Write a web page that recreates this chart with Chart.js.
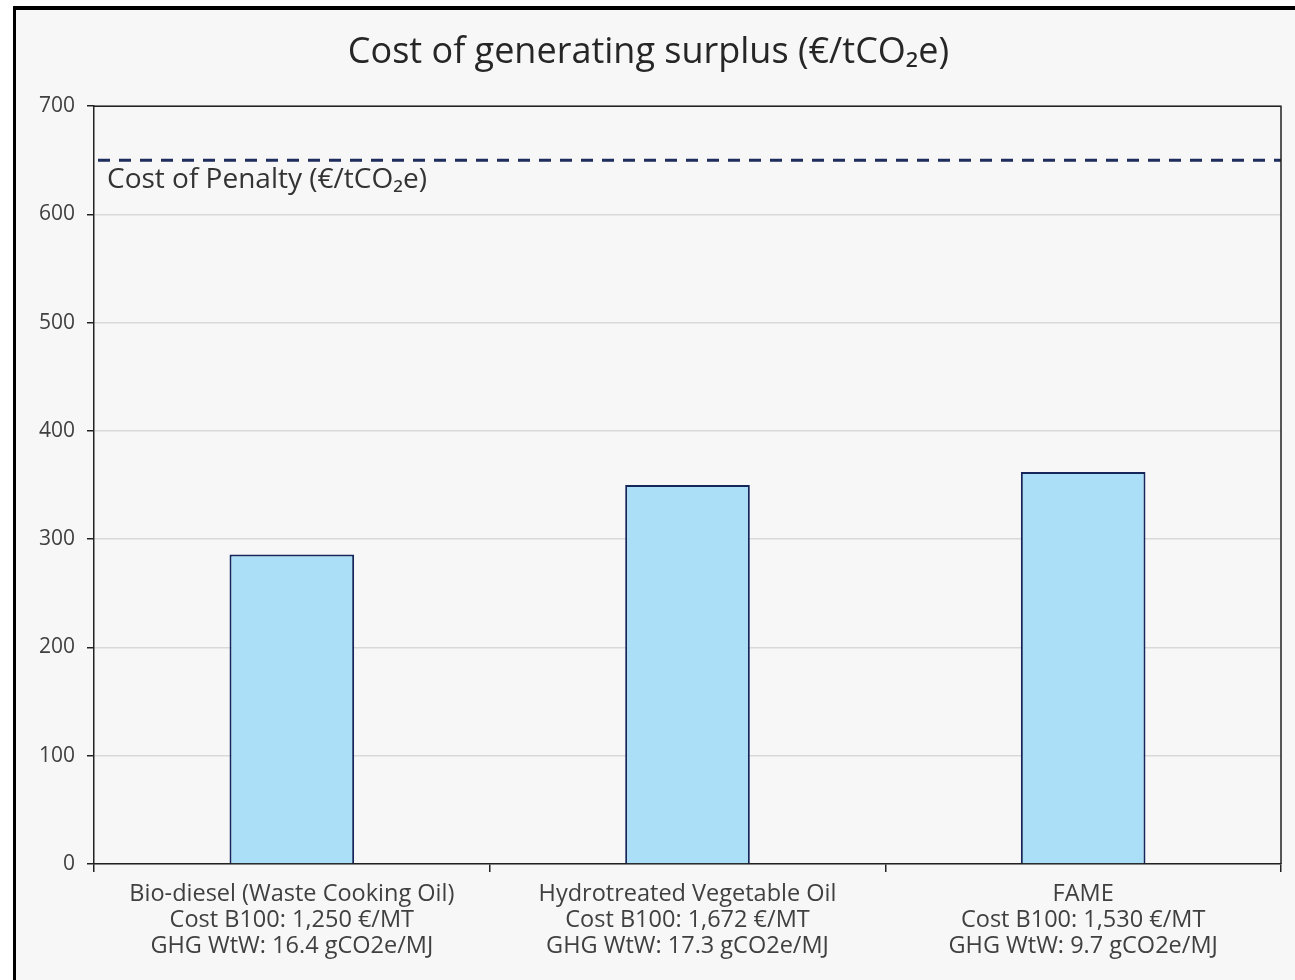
<!DOCTYPE html>
<html>
<head>
<meta charset="utf-8">
<script src="https://cdn.jsdelivr.net/npm/chart.js@4.4.1/dist/chart.umd.min.js"></script>
<style>
  html, body { margin: 0; padding: 0; background: #ffffff; }
  #frame {
    position: absolute; left: 13px; top: 6px;
    width: 1282px; height: 974px;
    border-left: 3px solid #000; border-top: 4px solid #000;
    background: #f7f7f7;
  }
  #wrap { position: absolute; left: 0; top: 0; width: 1282px; height: 970px; }
</style>
</head>
<body>
<div id="frame"><div id="wrap"><canvas id="chart"></canvas></div></div>
<script>
// Dane wykresu
const CATEGORIES = [
    ["Bio-diesel (Waste Cooking Oil)", "Cost B100: 1,250 €/MT", "GHG WtW: 16.4 gCO2e/MJ"],
    ["Hydrotreated Vegetable Oil", "Cost B100: 1,672 €/MT", "GHG WtW: 17.3 gCO2e/MJ"],
    ["FAME", "Cost B100: 1,530 €/MT", "GHG WtW: 9.7 gCO2e/MJ"]
];
const SURPLUS_COST = [286, 350, 362];
const PENALTY = 650;
const PENALTY_LABEL = "Cost of Penalty (€/tCO₂e)";
const Y_TICKS = [0, 100, 200, 300, 400, 500, 600, 700];

const FONT = "'Open Sans', 'Noto Sans', sans-serif";

// linia kary + ramka obszaru wykresu
const penaltyPlugin = {
    id: 'penalty',
    afterDatasetsDraw(chart) {
        const { ctx, chartArea: a, scales } = chart;
        const y = scales.y.getPixelForValue(PENALTY);
        ctx.save();
        ctx.strokeStyle = '#1f2d5c';
        ctx.lineWidth = 3;
        ctx.setLineDash([12, 9]);
        ctx.beginPath();
        ctx.moveTo(a.left + 4, y);
        ctx.lineTo(a.right, y);
        ctx.stroke();
        ctx.setLineDash([]);
        ctx.fillStyle = '#333333';
        ctx.font = "28px " + FONT;
        ctx.textBaseline = 'middle';
        ctx.fillText(PENALTY_LABEL, a.left + 13, y + 20);
        // górna i prawa krawędź
        ctx.strokeStyle = '#222';
        ctx.lineWidth = 1.5;
        ctx.beginPath();
        ctx.moveTo(a.left, a.top);
        ctx.lineTo(a.right, a.top);
        ctx.lineTo(a.right, a.bottom);
        ctx.stroke();
        ctx.restore();
    }
};

new Chart(document.getElementById('chart'), {
    type: 'bar',
    data: {
        labels: CATEGORIES,
        datasets: [{
            data: SURPLUS_COST,
            backgroundColor: '#abdff7',
            borderColor: '#15275a',
            borderWidth: 2,
            categoryPercentage: 1,
            barPercentage: 0.315
        }]
    },
    options: {
        responsive: true,
        maintainAspectRatio: false,
        animation: false,
        layout: { padding: { right: 17, bottom: 0 } },
        plugins: {
            legend: { display: false },
            tooltip: { enabled: false },
            title: {
                display: true,
                text: 'Cost of generating surplus (€/tCO₂e)',
                color: '#262626',
                font: { family: FONT, size: 36, weight: 'normal' },
                padding: { top: 21, bottom: 32 }
            }
        },
        scales: {
            y: {
                min: 0, max: 700,
                afterBuildTicks(scale) { scale.ticks = Y_TICKS.map(v => ({ value: v })); },
                afterFit(scale) { scale.width = 78; },
                grid: { color: '#d9d9d9', lineWidth: 1.5, tickColor: '#222', tickLength: 7 },
                border: { color: '#222', width: 1.5 },
                ticks: { color: '#404040', padding: 12, font: { family: FONT, size: 21 } }
            },
            x: {
                afterFit(scale) { scale.height = 116; },
                grid: { offset: true, drawOnChartArea: false, tickColor: '#222', tickLength: 8, lineWidth: 1.5 },
                border: { color: '#222', width: 1.5 },
                ticks: { color: '#404040', padding: 10, maxRotation: 0, font: { family: FONT, size: 23.5, lineHeight: 1.09 } }
            }
        }
    },
    plugins: [penaltyPlugin]
});
</script>
</body>
</html>
